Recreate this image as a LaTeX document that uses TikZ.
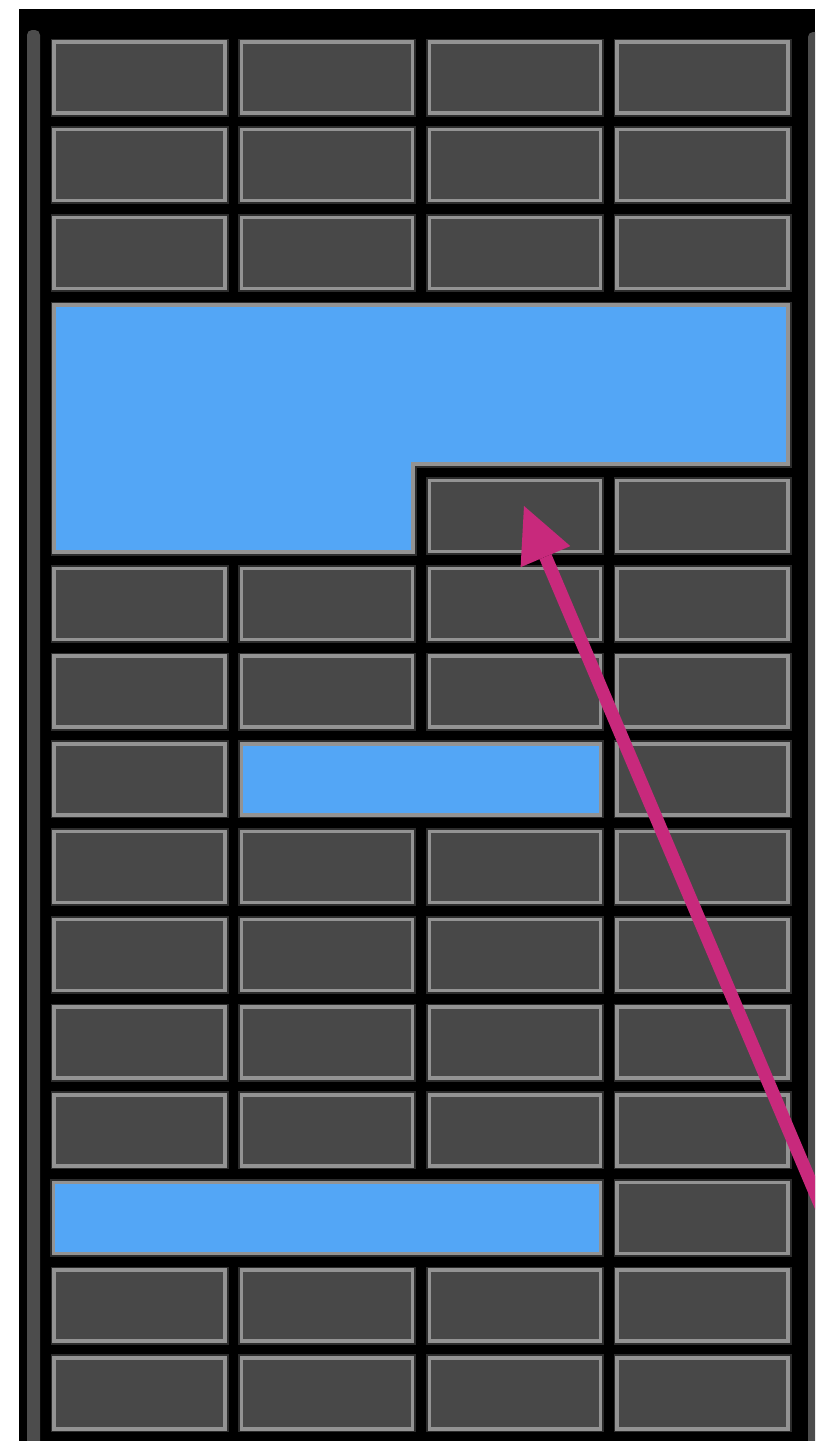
\documentclass[tikz,border=0pt]{standalone}
\definecolor{KeyFill}{HTML}{484848}
\definecolor{KeyEdge}{HTML}{939393}
\definecolor{KeyGlow}{HTML}{2C2C2C}
\definecolor{SelBlue}{HTML}{53A6F6}
\definecolor{PtrPink}{HTML}{C8297C}
\definecolor{BarGrey}{HTML}{4C4C4C}
\usepackage{tikz}
\usetikzlibrary{arrows.meta}

\begin{document}
\begin{tikzpicture}[x=1pt, y=-1pt, >={Triangle[length=55pt, width=54pt, line width=0pt]},
  key/.style={draw=KeyEdge, fill=KeyFill, line width=3.5pt, inner sep=0pt,
    minimum width=171pt, minimum height=71pt, preaction={draw=KeyGlow, line width=7pt}},
  sel/.style={draw=KeyEdge, fill=SelBlue, line width=3.5pt, inner sep=0pt,
    minimum height=71pt, preaction={draw=KeyGlow, line width=7pt}}]
  \useasboundingbox (0,0) rectangle (815,1441);
  \clip (0,0) rectangle (815,1441);
  \fill[white] (0,0) rectangle (815,1441);
  \fill[black] (19,9) rectangle (815,1441);
  \fill[BarGrey, rounded corners=5pt] (27,30) rectangle (40,1460);
  \fill[BarGrey, rounded corners=5pt] (808,32) rectangle (822,1460);
  \foreach \r/\cs in {1/{1,2,3,4}, 2/{1,2,3,4}, 3/{1,2,3,4}, 6/{3,4},
      7/{1,2,3,4}, 8/{1,2,3,4}, 9/{1,4}, 10/{1,2,3,4}, 11/{1,2,3,4},
      12/{1,2,3,4}, 13/{1,2,3,4}, 14/{4}, 15/{1,2,3,4}, 16/{1,2,3,4}}
    \foreach \c in \cs
      \node[key] (k-\r-\c) at ({139.5+(\c-1)*187.7}, {77.5+(\r-1)*87.73}) {};
  \filldraw[sel] (54,305) -- (788,305) -- (788,464) -- (413,464)
    -- (413,552) -- (54,552) -- cycle;
  \node[sel, minimum width=359pt] (sel-mid) at (421,779.3) {};
  \node[sel, minimum width=547pt] (sel-low) at (327.2,1218) {};
  \coordinate (tail) at (920,1440);
  \coordinate (tip) at (524,506);
  \draw[->, PtrPink, line width=13pt] (tail) -- (tip);
\end{tikzpicture}
\end{document}
